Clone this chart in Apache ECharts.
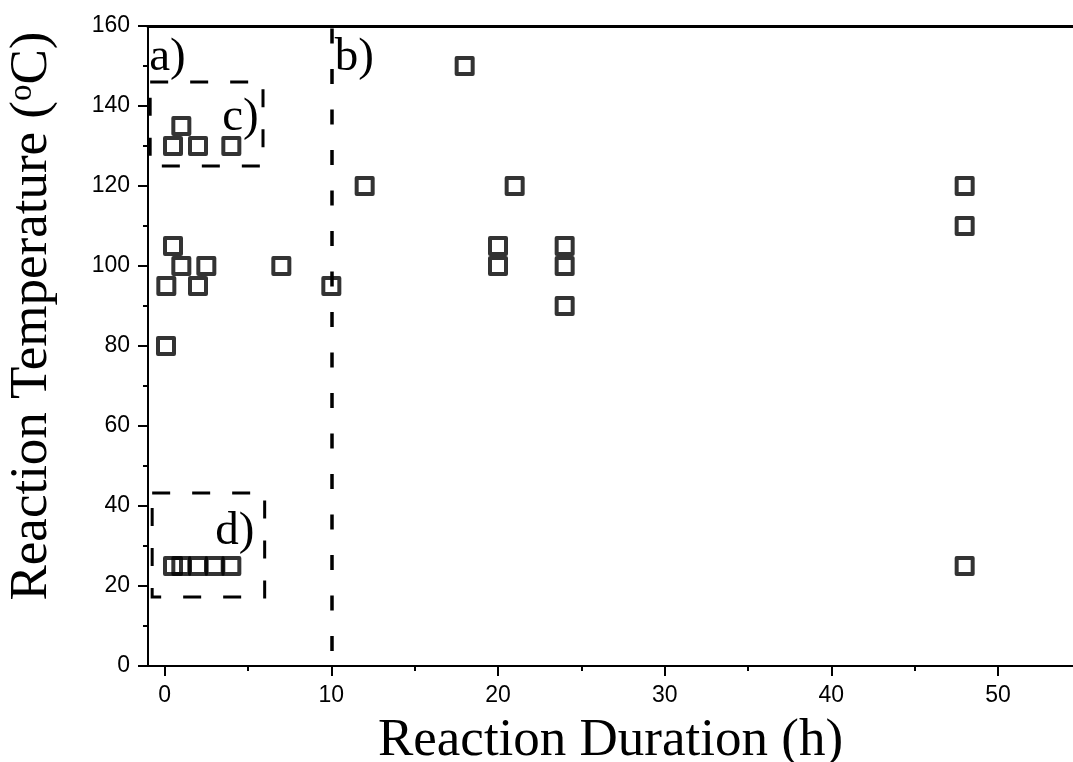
<!DOCTYPE html>
<html>
<head>
<meta charset="utf-8">
<script src="https://cdn.jsdelivr.net/npm/echarts@6/dist/echarts.min.js"></script>
<style>
  html, body { margin: 0; padding: 0; background: #fff; }
  #main { width: 1073px; height: 762px; }
</style>
</head>
<body>
<div id="main"></div>
<script>
// reaction conditions
const duration = [0.08, 0.1, 0.5, 1, 2, 2.5, 7, 10, 0.5, 1, 2, 4, 12, 18, 21, 20, 20, 24, 24, 24, 48, 48, 48, 0.5, 1, 2, 3, 4];
const temperature = [80, 95, 105, 100, 95, 100, 100, 95, 130, 135, 130, 130, 120, 150, 120, 105, 100, 105, 100, 90, 120, 110, 25, 25, 25, 25, 25, 25];
const xMajorTicks = [0, 10, 20, 30, 40, 50];
const xMinorTicks = [5, 15, 25, 35, 45];
const splitLineX = 10;
const regionLabels = ['a)', 'b)', 'c)', 'd)'];

const serif = 'Liberation Serif';
const sans = 'Liberation Sans';

const points = duration.map((d, i) => [d, temperature[i]]);

const chart = echarts.init(document.getElementById('main'));

const option = {
  animation: false,
  grid: { left: 148, right: 0, top: 26, bottom: 96, outerBoundsMode: 'none' },
  xAxis: [
    {
      type: 'value',
      min: -1,
      max: 54.5,
      splitLine: { show: false },
      axisLine: { onZero: false, lineStyle: { color: '#000', width: 2 } },
      axisTick: { customValues: xMajorTicks, length: 10, lineStyle: { color: '#000', width: 2 } },
      axisLabel: { customValues: xMajorTicks, margin: 18, color: '#000', fontFamily: sans, fontSize: 23 },
      name: 'Reaction Duration (h)',
      nameLocation: 'middle',
      nameGap: 49,
      nameTextStyle: { fontFamily: serif, fontSize: 53, color: '#000' }
    },
    {
      // minor ticks only
      type: 'value',
      min: -1,
      max: 54.5,
      position: 'bottom',
      splitLine: { show: false },
      axisLine: { show: false },
      axisTick: { customValues: xMinorTicks, length: 5, lineStyle: { color: '#000', width: 2 } },
      axisLabel: { show: false }
    },
    {
      // top frame line
      type: 'value',
      min: -1,
      max: 54.5,
      position: 'top',
      splitLine: { show: false },
      axisLine: { onZero: false, lineStyle: { color: '#000', width: 3 } },
      axisTick: { show: false },
      axisLabel: { show: false }
    }
  ],
  yAxis: {
    type: 'value',
    min: 0,
    max: 160,
    interval: 20,
    splitLine: { show: false },
    axisLine: { show: true, onZero: false, lineStyle: { color: '#000', width: 2 } },
    axisTick: { show: true, length: 10, lineStyle: { color: '#000', width: 2 } },
    minorTick: { show: true, splitNumber: 2, length: 5, lineStyle: { color: '#000', width: 2 } },
    axisLabel: { margin: 18, color: '#000', fontFamily: sans, fontSize: 23 },
    name: 'Reaction Temperature ({sup|o}C)',
    nameLocation: 'middle',
    nameGap: 89,
    nameTextStyle: {
      fontFamily: serif, fontSize: 53, color: '#000',
      padding: [0, 0, 0, 60],
      rich: { sup: { fontFamily: serif, fontSize: 33, color: '#000', verticalAlign: 'top', lineHeight: 53 } }
    }
  },
  series: [
    {
      type: 'scatter',
      data: points,
      symbol: 'rect',
      symbolSize: 16,
      itemStyle: { color: 'rgba(0,0,0,0)', borderColor: '#000', borderWidth: 4, borderJoin: 'round' },
      z: 5,
      markLine: {
        silent: true,
        symbol: 'none',
        label: { show: false },
        lineStyle: { color: '#000', width: 3.5, type: [15, 25.5], dashOffset: 25.5 },
        data: [{ xAxis: splitLineX }]
      },
      markArea: {
        silent: true,
        itemStyle: { color: 'rgba(0,0,0,0)', borderColor: '#000', borderWidth: 3, borderType: [18, 22] },
        data: [
          [{ coord: [-0.87, 146] }, { coord: [5.9, 125] }],
          [{ coord: [-0.75, 43.25] }, { coord: [6.0, 17.25] }]
        ]
      },
      markPoint: {
        silent: true,
        symbol: 'circle',
        symbolSize: 0,
        label: {
          show: true,
          position: 'right',
          distance: 0,
          formatter: '{b}',
          fontFamily: serif,
          fontSize: 47,
          color: '#000'
        },
        data: [
          { name: regionLabels[0], coord: [-0.93, 152] },
          { name: regionLabels[1], coord: [10.2, 152] },
          { name: regionLabels[2], coord: [3.45, 137] },
          { name: regionLabels[3], coord: [3.03, 33.5] }
        ]
      }
    }
  ]
};

chart.setOption(option);
</script>
</body>
</html>
